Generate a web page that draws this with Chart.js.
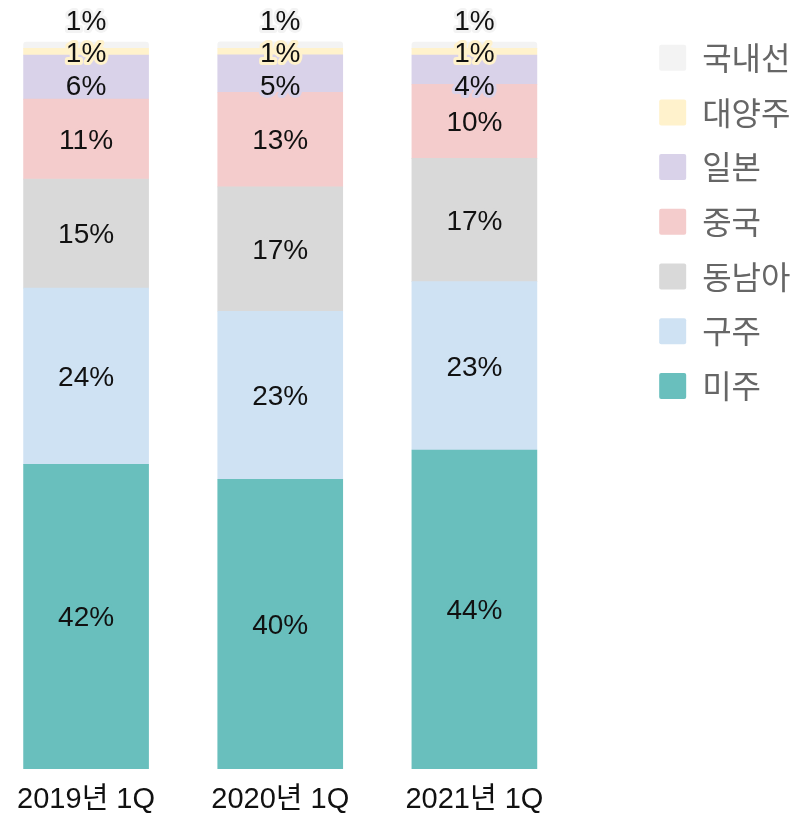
<!DOCTYPE html>
<html>
<head>
<meta charset="utf-8">
<script src="https://cdn.jsdelivr.net/npm/chart.js@4/dist/chart.umd.min.js"></script>
<style>
  html, body { margin: 0; padding: 0; background: #fff; overflow: hidden; }
  #wrap { position: absolute; left: -11px; top: 0; width: 817px; height: 818px; }
</style>
</head>
<body>
<div id="wrap"><canvas id="c"></canvas></div>
<script>
// ---- data ----
const categories = ['2019년 1Q', '2020년 1Q', '2021년 1Q'];
const seriesNames = ['미주', '구주', '동남아', '중국', '일본', '대양주', '국내선'];
const americas = [41.9, 39.85, 43.88];
const europe   = [24.25, 23.11, 23.15];
const seAsia   = [14.99, 17.10, 16.97];
const china    = [11.0, 13.03, 10.18];
const japan    = [6.05, 5.13, 4.03];
const oceania  = [0.92, 0.92, 0.92];
const domestic = [0.87, 0.87, 0.87];

const seriesValues = [americas, europe, seAsia, china, japan, oceania, domestic];
const seriesColors = ['#69bfbd', '#cfe2f3', '#d9d9d9', '#f4cccc', '#d9d2e9', '#fff2cc', '#f3f3f3'];

const lastIdx = seriesNames.length - 1;
const datasets = seriesNames.map((name, i) => ({
  label: name,
  data: seriesValues[i],
  backgroundColor: seriesColors[i],
  borderWidth: 0,
  barThickness: 125,
  borderRadius: i === lastIdx ? { topLeft: 3, topRight: 3, bottomLeft: 0, bottomRight: 0 } : 0,
  borderSkipped: i === lastIdx ? 'start' : false
}));

// value labels with a halo in the segment colour; labels near the top are
// pushed apart so they do not overlap
const labelPlugin = {
  id: 'segLabels',
  afterDatasetsDraw(chart) {
    const ctx = chart.ctx;
    const n = chart.data.datasets.length;
    const GAP = 32.5;
    ctx.save();
    ctx.font = "28px 'Liberation Sans', Arial, sans-serif";
    ctx.textAlign = 'center';
    ctx.textBaseline = 'middle';
    ctx.lineJoin = 'round';
    chart.data.labels.forEach((_, j) => {
      let prev = null;
      for (let i = n - 1; i >= 0; i--) {
        const ds = chart.data.datasets[i];
        const bar = chart.getDatasetMeta(i).data[j];
        const center = (bar.y + bar.base) / 2;
        let cy = prev === null ? bar.y - 22 : Math.max(center, prev + GAP);
        prev = cy;
        const txt = Math.round(ds.data[j]) + '%';
        ctx.strokeStyle = ds.backgroundColor;
        ctx.lineWidth = 6;
        ctx.strokeText(txt, bar.x, cy + 2);
        ctx.fillStyle = '#111';
        ctx.fillText(txt, bar.x, cy + 2);
      }
    });
    ctx.restore();
  }
};

new Chart(document.getElementById('c'), {
  type: 'bar',
  data: { labels: categories, datasets },
  plugins: [labelPlugin],
  options: {
    responsive: true,
    maintainAspectRatio: false,
    animation: false,
    events: [],
    layout: { padding: { top: 19, right: 5.5, bottom: 0, left: 0 } },
    scales: {
      x: {
        stacked: true,
        grid: { display: false, drawTicks: false },
        border: { display: false },
        afterFit(s) { s.height = 49; },
        ticks: {
          autoSkip: false,
          maxRotation: 0,
          padding: 14,
          color: '#111',
          font: { family: "'Liberation Sans', Arial, 'Noto Sans CJK KR', sans-serif", size: 29 }
        }
      },
      y: {
        stacked: true,
        position: 'right',
        min: 0,
        max: 103.16,
        grid: { display: false, drawTicks: false },
        border: { display: false },
        ticks: { display: false },
        afterFit(s) { s.width = 65; }
      }
    },
    plugins: {
      tooltip: { enabled: false },
      legend: {
        position: 'right',
        align: 'start',
        reverse: true,
        labels: {
          boxWidth: 27,
          boxHeight: 26,
          padding: 22.7,
          useBorderRadius: true,
          borderRadius: 2,
          color: '#666',
          font: { family: "'Noto Sans CJK KR', sans-serif", size: 32 }
        }
      }
    }
  }
});
</script>
</body>
</html>
